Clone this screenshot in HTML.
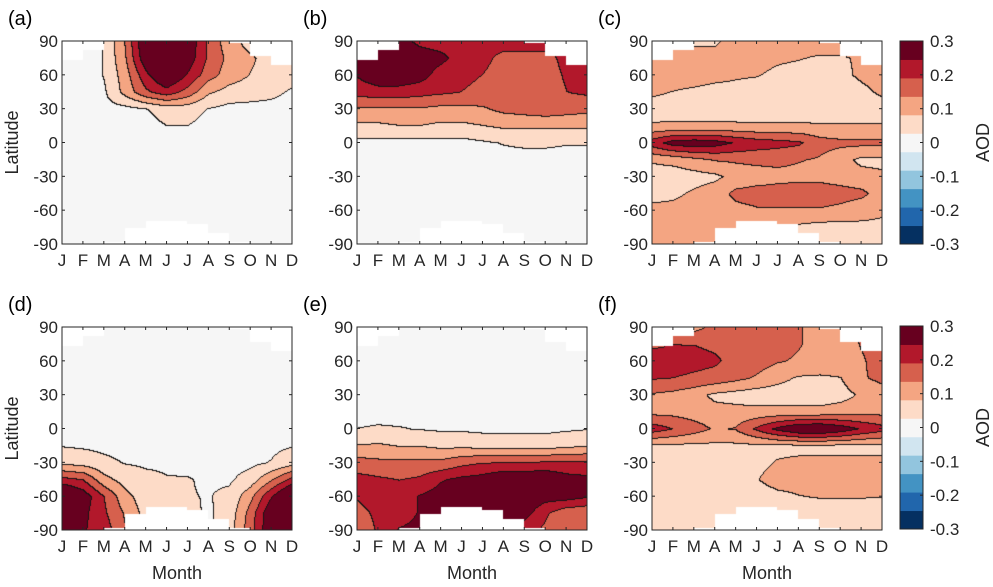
<!DOCTYPE html>
<html><head><meta charset="utf-8">
<style>
body{margin:0;background:#fff;width:993px;height:587px;overflow:hidden;position:relative;font-family:"Liberation Sans",sans-serif;color:#262626}
canvas{position:absolute}
svg{position:absolute;left:0;top:0}
</style></head><body>
<svg id="ov" width="993" height="587"></svg>
<script>
// Data grids: AOD x100, rows = latitudes, cols = months
const months = ["J","F","M","A","M","J","J","A","S","O","N","D"];
const lats = [90,75,60,45,30,15,0,-15,-30,-45,-60,-75,-90];
const yTicks = [90,60,30,0,-30,-60,-90];
const cbTicks = [0.3,0.2,0.1,0,-0.1,-0.2,-0.3];
const maskTop = [73,82,91,91,91,91,91,91,88,77,69];
const maskBot = [-91,-91,-88,-76,-70,-70,-72,-80,-88,-91,-91];
const dataA = [
[0,0,3,14,31,34,29,18,10,6,5,5],
[0,0,3,13,29,33,28,18,12,9,6,5],
[0,0,3,11,23,32,24,16,11,8,6,5],
[0,0,2,10,18,22,17,9,6,5,4,2],
[1,1,1,1,2.5,5,5,2.5,1,1,1,1],
[1,1,1,1,1,2.7,2.7,1,1,1,1,1],
[1,1,1,1,1,1,1,1,1,1,1,1],[1,1,1,1,1,1,1,1,1,1,1,1],[1,1,1,1,1,1,1,1,1,1,1,1],
[1,1,1,1,1,1,1,1,1,1,1,1],[1,1,1,1,1,1,1,1,1,1,1,1],[1,1,1,1,1,1,1,1,1,1,1,1],[1,1,1,1,1,1,1,1,1,1,1,1]];
const dataB = [
[22,23,27,23,22,22,22,22,22,22,22,22],
[25,29,29,28,26,22,21,17,17,17,21,22],
[25,29,29,27,22,21,19,16,16,16,20,21],
[21,22,22,21,20,19,17,15,15,15,19,20],
[13,13,13,13,12,12,13,15,16,17,16,15],
[7,7,8,8,7,7,8,9,9,9,9,9],
[1,1,1,1,1,1,2,3,3.5,3.5,3,3],
[1,1,1,1,1,1,1,1,1,1,1,1],[1,1,1,1,1,1,1,1,1,1,1,1],[1,1,1,1,1,1,1,1,1,1,1,1],
[1,1,1,1,1,1,1,1,1,1,1,1],[1,1,1,1,1,1,1,1,1,1,1,1],[1,1,1,1,1,1,1,1,1,1,1,1]];
const dataC = [
[11,11,7,7,11,11,11,11,11,11,11,11],
[11,11,11,11,11,10,9,8.5,7.5,7.5,9,11],
[11,11,11,10,9,8.5,7,6,6,7,9,10],
[9,8,7,6,6,5,5,5,5,5,7,9],
[6,6,6,5,5,5,5,5,5,5,6,6],
[8.8,9,9,9.2,9.2,9,9,9,8.8,8.8,8.5,8.5],
[22,27,28,27,24,22,21,20,16,15,15,15],
[9,10,12,14,14.5,15,15,14,13,10,7,7],
[5,5,6,7,10,11,12,12,12,11,10,9],
[6,7,9,11,15,16,16,17,17,16,15,11],
[10,10,11,11,12,13,13,13,13,12,10,9],
[11,11,11,11,10,9,8,7,6,6,7,7],
[11,11,11,11,10,9,7,6,6,6,6,6]];
const dataD = [
[1,1,1,1,1,1,1,1,1,1,1,1],[1,1,1,1,1,1,1,1,1,1,1,1],[1,1,1,1,1,1,1,1,1,1,1,1],
[1,1,1,1,1,1,1,1,1,1,1,1],[1,1,1,1,1,1,1,1,1,1,1,1],[1,1,1,1,1,1,1,1,1,1,1,1],
[1,1,1,1,1,1,1,1,1,1,1,1],
[2.5,2,1.5,1,1,1,1,1,1,1,1.5,2.5],
[7,6,4,2.5,2,2,1.5,1,1,1.5,3,6],
[21,19,10,6,4,3,3,2,2,5,13,21],
[35,28,19,10,5,4,3,2.5,4,12,24,35],
[40,26,20,13,6,5,4,2,5,16,30,40],
[40,25,22,14,8,6,4,2,6,17,30,40]];
const dataE = [
[1,1,1,1,1,1,1,1,1,1,1,1],[1,1,1,1,1,1,1,1,1,1,1,1],[1,1,1,1,1,1,1,1,1,1,1,1],
[1,1,1,1,1,1,1,1,1,1,1,1],[1,1,1,1,1,1,1,1,1,1,1,1],[1,1,1,1,1,1,1,1,1,1,1,1],
[2.8,3.3,3,2.5,2,2,1.5,1.5,1.5,1.5,2,2.5],
[8.5,9,8,8,7,7,6.5,6,6,6,7,8],
[16,15,15,15,15,17.5,19,19,19,20,20,20],
[21,20,19,20,24,26,27,30,30,30,27,26],
[20,24,22,25,27,28,29,30,29,27,27,25],
[16,21,22,25,27,28,28,28,27,20,15,14],
[14,20,25,26,27,28,27,26,21,18,14,14]];
const dataF = [
[15,15,12,15,16,16,16,14,12,12,14,15],
[18,19,19,18,17,17,16,14,12,11,14,16],
[22,22,21,20,17,16,14,13,11,11,13,16],
[19.5,19,18,17,15,13,10,7.5,7.5,8,13,15],
[13,12,10,7,6,5,5,5,5,6,9,11],
[12,12,11,10,10,10,10,10,10,11,12,12],
[22,19,16,13,14,20,26,30,31,28,24,21],
[7,7,7,7,7,7,7,7,7,7,7,7],
[6,6,6,6,6,7,8.5,9,9,9,9,9],
[5,5,5,5,6,8,10,10,10,10,10,10],
[5,5,5,5,5,6,7,8,8.5,8.5,8.5,8.3],
[5,5,5,5,5,5,5,5,5,5,5,5],
[5,5,5,5,5,5,5,5,5,5,5,5]];

const colors=["#053061","#2166ac","#4393c3","#92c5de","#d1e5f0","#f6f6f6","#fddbc7","#f4a582","#d6604d","#b2182b","#67001f"];
const panels=[
 {id:"a",data:dataA,x:62,y:41,row:0,col:0},
 {id:"b",data:dataB,x:357,y:41,row:0,col:1},
 {id:"c",data:dataC,x:652,y:41,row:0,col:2},
 {id:"d",data:dataD,x:62,y:327,row:1,col:0},
 {id:"e",data:dataE,x:357,y:327,row:1,col:1},
 {id:"f",data:dataF,x:652,y:327,row:1,col:2}];
const W=230,H=203;
const NS="http://www.w3.org/2000/svg";
const ov=document.getElementById('ov');
function sv(tag,attrs,parent){const e=document.createElementNS(NS,tag);for(const k in attrs)e.setAttribute(k,attrs[k]);(parent||ov).appendChild(e);return e;}
function xScale(m){return m/11*W;}
function yScale(l){return (90-l)/180*H;}
function band(v){let b=Math.floor((v/100+0.3)/(0.6/11));return Math.max(0,Math.min(10,b));}
function sample(d,m,l){
  const r=(90-l)/15, r0=Math.max(0,Math.min(11,Math.floor(r))), fr=Math.min(1,Math.max(0,r-r0));
  const c0=Math.max(0,Math.min(10,Math.floor(m))), fc=Math.min(1,Math.max(0,m-c0));
  const a=d[r0][c0],b=d[r0][c0+1],c=d[r0+1][c0],e=d[r0+1][c0+1];
  return (a*(1-fc)+b*fc)*(1-fr)+(c*(1-fc)+e*fc)*fr;
}
function hex(h){return [parseInt(h.substr(1,2),16),parseInt(h.substr(3,2),16),parseInt(h.substr(5,2),16)];}
const rgb=colors.map(hex);
panels.forEach(p=>{
  const cv=document.createElement('canvas');
  cv.width=W;cv.height=H;cv.style.left=p.x+'px';cv.style.top=p.y+'px';
  
  
  document.body.appendChild(cv);
  const ctx=cv.getContext('2d');const img=ctx.createImageData(W,H);
  const B=new Int8Array(W*H);
  for(let py=0;py<H;py++)for(let px=0;px<W;px++){
    const m=(px+0.5)/W*11,l=90-(py+0.5)/H*180;
    const k=Math.min(10,Math.floor(m));
    let b;
    if(l>maskTop[k]||l<maskBot[k]) b=-1; else b=band(sample(p.data,m,l));
    B[py*W+px]=b;
  }
  for(let py=0;py<H;py++)for(let px=0;px<W;px++){
    const i=py*W+px,b=B[i];let c;
    if(b<0)c=[255,255,255];else{
      c=rgb[b];
      const bl=px>0?B[i-1]:b, bt=py>0?B[i-W]:b;
      if((bl>=0&&bl!==b)||(bt>=0&&bt!==b))c=[20,20,20];
    }
    img.data[i*4]=c[0];img.data[i*4+1]=c[1];img.data[i*4+2]=c[2];img.data[i*4+3]=255;
  }
  ctx.putImageData(img,0,0);
});
document.body.appendChild(ov);
panels.forEach(p=>{
  const g=sv('g',{transform:`translate(${p.x},${p.y})`});
  
  
  const fr=sv('rect',{x:0,y:0,width:W,height:H,fill:'none',stroke:'#262626','stroke-width':1},g);
  
  
  yTicks.forEach(t=>{
    const y=yScale(t);
    sv('line',{x1:0,x2:3,y1:y,y2:y,stroke:'#262626'},g);
    sv('line',{x1:W-3,x2:W,y1:y,y2:y,stroke:'#262626'},g);
    const tx=sv('text',{x:-4,y:y+6,'text-anchor':'end','font-size':17,fill:'#262626'},g);
    tx.textContent=t;
    
    
  });
  months.forEach((mo,i)=>{
    const x=xScale(i);
    sv('line',{x1:x,x2:x,y1:H,y2:H-3,stroke:'#262626'},g);
    sv('line',{x1:x,x2:x,y1:0,y2:3,stroke:'#262626'},g);
    const tx=sv('text',{x:x,y:H+22,'text-anchor':'middle','font-size':17,fill:'#262626'},g);
    tx.textContent=mo;
    
    
  });
  const lb=sv('text',{x:p.x-54,y:p.y-16,'font-size':20,fill:'#000'});
  lb.textContent='('+p.id+')';
  
  
  if(p.col===0){
    const yl=sv('text',{transform:`translate(${p.x-44},${p.y+H/2}) rotate(-90)`,'text-anchor':'middle','font-size':18,fill:'#262626'});
    yl.textContent='Latitude';
    
    
  }
  if(p.row===1){
    const xl=sv('text',{x:p.x+W/2,y:p.y+H+49,'text-anchor':'middle','font-size':18,fill:'#262626'});
    xl.textContent='Month';
    
    
  }
});
[41,326].forEach((y0,ri)=>{
  const g=sv('g',{transform:`translate(900,${y0})`});
  
  
  const ch=203,bh=ch/11;
  colors.forEach((c,i)=>{
    const r=sv('rect',{x:0,y:ch-(i+1)*bh,width:23,height:bh+0.5,fill:c},g);
    
    
  });
  sv('rect',{x:0,y:0,width:23,height:ch,fill:'none',stroke:'#262626'},g);
  cbTicks.forEach(t=>{
    const y=(0.3-t)/0.6*ch;
    sv('line',{x1:20,x2:23,y1:y,y2:y,stroke:'#262626'},g);
    const tx=sv('text',{x:30,y:y+6,'font-size':17,fill:'#262626'},g);
    tx.textContent=t;
    
    
  });
  const at=sv('text',{transform:`translate(89,${ch/2}) rotate(-90)`,'text-anchor':'middle','font-size':18,fill:'#262626'},g);
  at.textContent='AOD';
  
  
});
</script>
</body></html>
